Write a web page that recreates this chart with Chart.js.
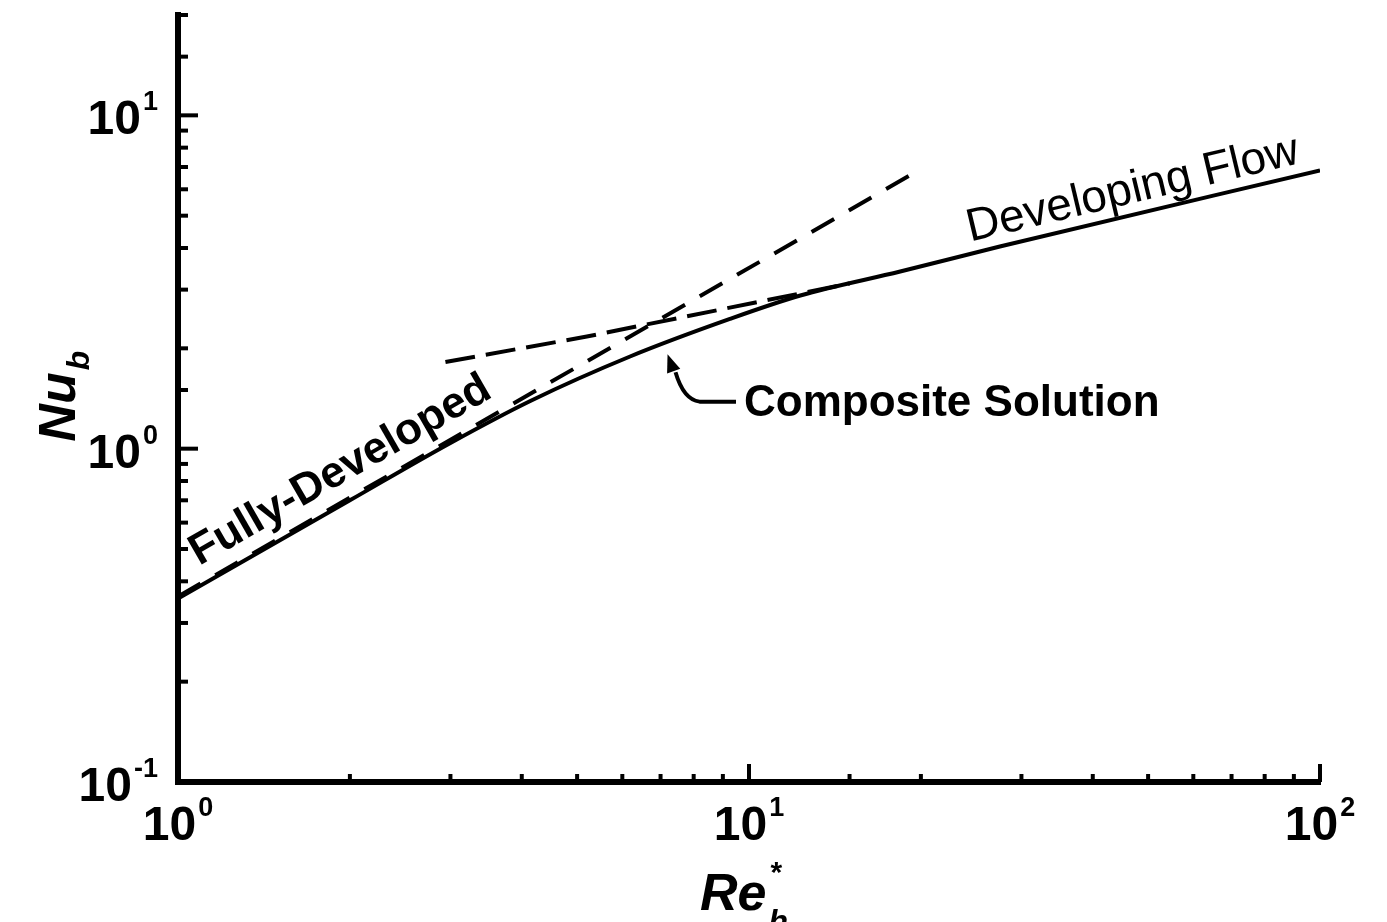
<!DOCTYPE html>
<html>
<head>
<meta charset="utf-8">
<script src="https://cdn.jsdelivr.net/npm/chart.js@4"></script>
<style>
  html, body { margin: 0; padding: 0; background: #fff; }
  canvas { display: block; }
</style>
</head>
<body>
<canvas id="nuChart" width="1387" height="922"></canvas>
<script>
// values (Re*_h on x, Nu_b on y)
const compositeRe = [1.0, 2.0, 3.0, 4.14, 6.19, 9.26, 12.3, 18.4, 27.5, 100];
const compositeNu = [0.355, 0.70, 1.04, 1.39, 1.89, 2.45, 2.88, 3.40, 4.04, 6.84];
const fullyDevRe = [1.0, 20];
const fullyDevNu = [0.36, 6.9];
const developingRe = [2.94, 5.2, 15];
const developingNu = [1.82, 2.17, 3.13];

const xTickValues = [1, 10, 100];
const xTickExps = ['0', '1', '2'];
const yTickValues = [0.1, 1, 10];
const yTickExps = ['-1', '0', '1'];

const curveLabels = ['Fully-Developed', 'Developing Flow', 'Composite Solution'];

const FONT = '"Liberation Sans", Arial, Helvetica, sans-serif';

function toPoints(xs, ys) {
  return xs.map((x, i) => ({ x: x, y: ys[i] }));
}

function isDecade(v) {
  const l = Math.log10(v);
  return Math.abs(l - Math.round(l)) < 1e-6;
}

// draws "10" with a raised exponent
function drawPower(ctx, exp, x, y, align) {
  ctx.font = 'bold 48px ' + FONT;
  const wb = ctx.measureText('10').width;
  ctx.font = 'bold 27px ' + FONT;
  const we = ctx.measureText(exp).width;
  let start = x;
  if (align === 'center') start = x - (wb + we + 2) / 2;
  if (align === 'right') start = x - (wb + we + 2);
  ctx.textAlign = 'left';
  ctx.textBaseline = 'alphabetic';
  ctx.font = 'bold 48px ' + FONT;
  ctx.fillText('10', start, y);
  ctx.font = 'bold 27px ' + FONT;
  ctx.fillText(exp, start + wb + 2, y - 24);
}

const axisDecor = {
  id: 'axisDecor',
  afterDraw(chart) {
    const ctx = chart.ctx;
    const xs = chart.scales.x;
    const ys = chart.scales.y;
    const area = chart.chartArea;
    ctx.save();
    ctx.strokeStyle = '#000';
    ctx.fillStyle = '#000';
    ctx.lineWidth = 4;

    // tick marks point into the plot
    xs.ticks.forEach(t => {
      const px = xs.getPixelForValue(t.value);
      ctx.beginPath();
      ctx.moveTo(px, area.bottom);
      ctx.lineTo(px, area.bottom - (isDecade(t.value) ? 18 : 8));
      ctx.stroke();
    });
    ys.ticks.forEach(t => {
      const py = ys.getPixelForValue(t.value);
      ctx.beginPath();
      ctx.moveTo(area.left, py);
      ctx.lineTo(area.left + (isDecade(t.value) ? 20 : 10), py);
      ctx.stroke();
    });

    // tick labels
    xTickValues.forEach((v, i) => {
      drawPower(ctx, xTickExps[i], xs.getPixelForValue(v), area.bottom + 58, 'center');
    });
    yTickValues.forEach((v, i) => {
      drawPower(ctx, yTickExps[i], area.left - 20, ys.getPixelForValue(v) + 19, 'right');
    });

    // axis titles
    const cx = (area.left + area.right) / 2;
    ctx.textAlign = 'left';
    ctx.textBaseline = 'alphabetic';
    ctx.font = 'italic bold 52px ' + FONT;
    const wRe = ctx.measureText('Re').width;
    const reX = cx - 49;
    ctx.fillText('Re', reX, area.bottom + 128);
    ctx.font = 'bold 30px ' + FONT;
    ctx.fillText('*', reX + wRe + 4, area.bottom + 100);
    ctx.font = 'italic bold 32px ' + FONT;
    ctx.fillText('h', reX + wRe + 2, area.bottom + 150);

    ctx.save();
    ctx.translate(75, ys.getPixelForValue(1) - 7);
    ctx.rotate(-Math.PI / 2);
    ctx.font = 'italic bold 52px ' + FONT;
    const wNu = ctx.measureText('Nu').width;
    ctx.fillText('Nu', 0, 0);
    ctx.font = 'italic bold 32px ' + FONT;
    ctx.fillText('b', wNu + 2, 14);
    ctx.restore();

    // curve labels set along their lines
    const fdAngle = Math.atan2(
      ys.getPixelForValue(fullyDevNu[1]) - ys.getPixelForValue(fullyDevNu[0]),
      xs.getPixelForValue(fullyDevRe[1]) - xs.getPixelForValue(fullyDevRe[0]));
    ctx.save();
    ctx.translate(xs.getPixelForValue(1.09), ys.getPixelForValue(0.445));
    ctx.rotate(fdAngle);
    ctx.font = 'bold 44px ' + FONT;
    ctx.fillText(curveLabels[0], 0, 0);
    ctx.restore();

    const n = compositeRe.length;
    const devAngle = Math.atan2(
      ys.getPixelForValue(compositeNu[n - 1]) - ys.getPixelForValue(compositeNu[n - 2]),
      xs.getPixelForValue(compositeRe[n - 1]) - xs.getPixelForValue(compositeRe[n - 2]));
    ctx.save();
    ctx.translate(xs.getPixelForValue(24.4), ys.getPixelForValue(4.18));
    ctx.rotate(devAngle);
    ctx.font = '46px ' + FONT;
    ctx.fillText(curveLabels[1], 0, 0);
    ctx.restore();

    // composite label with its arrow
    const tx = xs.getPixelForValue(9.8);
    const ty = ys.getPixelForValue(1.365);
    ctx.font = 'bold 44px ' + FONT;
    ctx.textBaseline = 'middle';
    ctx.fillText(curveLabels[2], tx, ty);

    const ax = xs.getPixelForValue(7.2);
    const ay = ys.getPixelForValue(1.92);
    ctx.lineWidth = 4;
    ctx.beginPath();
    ctx.moveTo(tx - 8, ty - 2);
    ctx.lineTo(ax + 32, ty - 2);
    ctx.quadraticCurveTo(ax + 16, ty - 4, ax + 8, ay + 18);
    ctx.stroke();
    const dx = -8, dy = -22;
    const len = Math.hypot(dx, dy);
    const ux = dx / len, uy = dy / len;
    ctx.beginPath();
    ctx.moveTo(ax, ay);
    ctx.lineTo(ax - ux * 18 + uy * 7, ay - uy * 18 - ux * 7);
    ctx.lineTo(ax - ux * 18 - uy * 7, ay - uy * 18 + ux * 7);
    ctx.closePath();
    ctx.fill();

    ctx.restore();
  }
};

const ctx = document.getElementById('nuChart').getContext('2d');

new Chart(ctx, {
  type: 'scatter',
  data: {
    datasets: [
      {
        label: curveLabels[2],
        data: toPoints(compositeRe, compositeNu),
        showLine: true,
        borderColor: '#000',
        borderWidth: 4,
        pointRadius: 0,
        cubicInterpolationMode: 'monotone',
      },
      {
        label: curveLabels[0],
        data: toPoints(fullyDevRe, fullyDevNu),
        showLine: true,
        borderColor: '#000',
        borderWidth: 4,
        borderDash: [26, 17],
        pointRadius: 0,
      },
      {
        label: curveLabels[1],
        data: toPoints(developingRe, developingNu),
        showLine: true,
        borderColor: '#000',
        borderWidth: 4,
        borderDash: [30, 11],
        pointRadius: 0,
      },
    ],
  },
  options: {
    responsive: false,
    animation: false,
    devicePixelRatio: 1,
    layout: { padding: { left: 178, right: 67, top: 15, bottom: 140 } },
    plugins: {
      legend: { display: false },
      tooltip: { enabled: false },
    },
    scales: {
      x: {
        type: 'logarithmic',
        min: 1,
        max: 100,
        ticks: { display: false },
        grid: { display: false, drawTicks: false },
        border: { display: true, color: '#000', width: 6 },
      },
      y: {
        type: 'logarithmic',
        min: 0.1,
        max: 20,
        ticks: { display: false },
        grid: { display: false, drawTicks: false },
        border: { display: true, color: '#000', width: 6 },
      },
    },
  },
  plugins: [axisDecor],
});
</script>
</body>
</html>
